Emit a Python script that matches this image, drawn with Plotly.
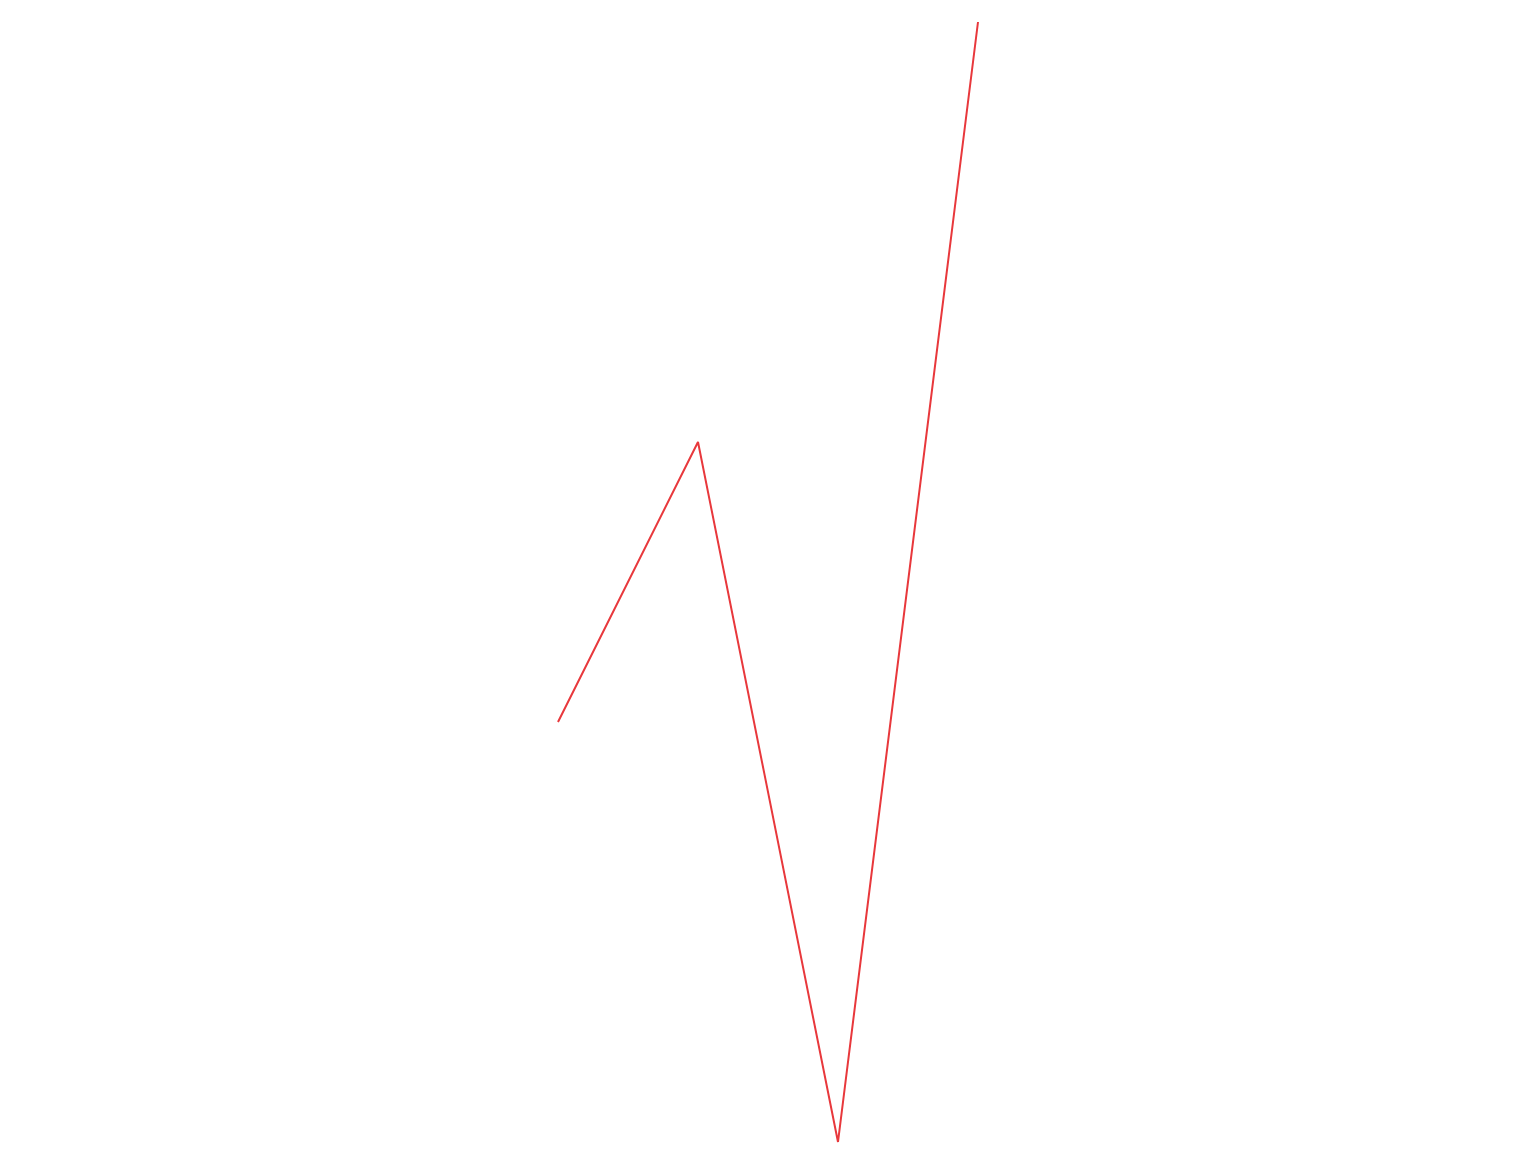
import plotly.graph_objects as go

x_values = [0, 1, 2, 3]
y_values = [3, 5, 0, 8]

fig = go.Figure()
fig.add_trace(go.Scatter(
    x=x_values, y=y_values, mode="lines",
    line=dict(color="#e8383c", width=2),
    showlegend=False, hoverinfo="skip",
))

fig.update_layout(
    width=1536, height=1173,
    margin=dict(l=0, r=0, t=0, b=0),
    paper_bgcolor="white", plot_bgcolor="white",
    xaxis=dict(visible=False, range=[-550 / 140, -550 / 140 + 1536 / 140]),
    yaxis=dict(visible=False, range=[-39 / 140, 8 + 14 / 140]),
)

fig.write_html("out.html")
